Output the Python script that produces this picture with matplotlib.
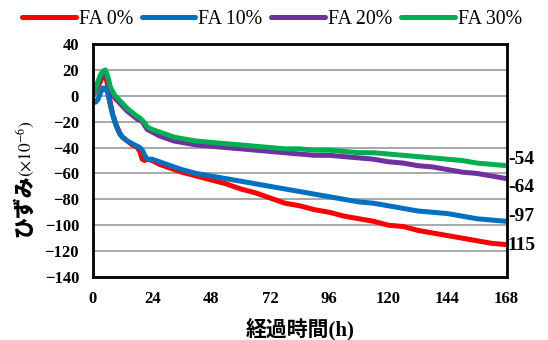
import matplotlib.pyplot as plt

plt.rcParams['mathtext.fontset'] = 'stix'

# hours since start
hours = [0, 1, 2, 3, 4, 5, 6, 7, 8, 9, 10, 11, 12, 14, 16, 18, 19, 20, 21, 22,
         24, 27, 30, 33, 36, 42, 48, 54, 60, 66, 72, 78, 84, 90, 96, 102, 108,
         114, 120, 126, 132, 138, 144, 150, 156, 162, 168]

# strain (x10^-6)
fa0 = [0, 3, 7, 11, 16, 16, 8, -5, -14, -20, -25, -29, -32, -35, -38, -40, -43,
       -49, -50, -49, -50, -53, -55, -57, -59, -62, -65, -68, -72, -75, -79,
       -83, -85, -88, -90, -93, -95, -97, -100, -101, -104, -106, -108, -110,
       -112, -114, -115]
fa10 = [-3, -5, -3, 2, 6, 6, 2, -7, -15, -21, -26, -30, -32, -35, -37, -39,
        -40, -42, -46, -49, -49, -51, -53, -55, -57, -60, -62, -64, -66, -68,
        -70, -72, -74, -76, -78, -80, -82, -83, -85, -87, -89, -90, -91, -93,
        -95, -96, -97]
fa20 = [0, 4, 9, 14, 17, 18, 13, 5, 1, -2, -4, -6, -8, -12, -15, -18, -19, -20,
        -23, -26, -28, -31, -33, -35, -36, -38, -39, -40, -41, -42, -43, -44,
        -45, -46, -46, -47, -48, -49, -51, -52, -54, -55, -57, -59, -60, -62,
        -64]
fa30 = [0, 5, 11, 16, 19, 20, 15, 7, 3, 0, -2, -4, -6, -10, -13, -16, -17, -19,
        -21, -24, -26, -28, -30, -32, -33, -35, -36, -37, -38, -39, -40, -41,
        -41, -42, -42, -43, -44, -44, -45, -46, -47, -48, -49, -50, -52, -53,
        -54]

series = [("FA 0%", fa0, "#FF0000"), ("FA 10%", fa10, "#0070C0"),
          ("FA 20%", fa20, "#7030A0"), ("FA 30%", fa30, "#00B050")]

end_labels = ["-54", "-64", "-97", "115"]
end_label_y = [-49, -71, -93, -116]

fig = plt.figure(figsize=(5.48, 3.4), dpi=100)
ax = fig.add_axes([0.1697, 0.1853, 0.7546, 0.6853])

for name, vals, col in series:
    ax.plot(hours, vals, color=col, lw=3.6, label=name, solid_capstyle='round')

ax.set_xlim(0, 168)
ax.set_ylim(-140, 40)
ax.set_xticks(range(0, 169, 24))
ax.set_yticks(range(-140, 41, 20))
ax.grid(axis='y', color='#A0A0A0', lw=1.3)
ax.set_axisbelow(True)
ax.tick_params(length=0, labelsize=12)
ax.tick_params(axis='x', pad=10)
ax.tick_params(axis='y', pad=10)
for lab in ax.get_xticklabels() + ax.get_yticklabels():
    lab.set_fontfamily('Liberation Serif')
    lab.set_fontweight('bold')
for sp in ax.spines.values():
    sp.set_linewidth(2)
    sp.set_color('black')

for txt, yv in zip(end_labels, end_label_y):
    ax.annotate(txt, xy=(168, yv), xytext=(1, 0), textcoords='offset points',
                ha='left', va='center', fontsize=14, fontweight='bold',
                family='Liberation Serif', annotation_clip=False)

fig.legend(loc='center', bbox_to_anchor=(272 / 548, 1 - 19 / 340), ncol=4,
           frameon=False, handlelength=2.7, handletextpad=0.15,
           columnspacing=0.45, prop={'family': 'Liberation Serif', 'size': 14.3})

fig.text(300 / 548, 1 - 330 / 340, "経過時間(h)", ha='center', va='center',
         fontsize=15, fontweight='bold',
         family=['Liberation Serif', 'Noto Sans CJK JP'])
fig.text(24 / 548, 1 - 237 / 340, "ひずみ", rotation=90, ha='center',
         va='bottom', fontsize=15, fontweight='heavy', family='Noto Sans CJK JP')
fig.text(26 / 548, 1 - 177 / 340, r"$(\times10^{-6})$", rotation=90,
         ha='center', va='bottom', fontsize=12.5)

fig.savefig("out.png", dpi=100)
